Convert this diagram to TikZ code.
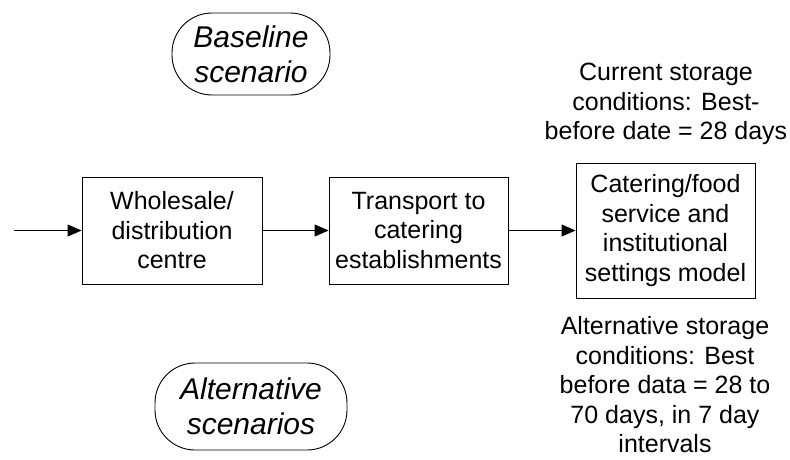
\documentclass[tikz,border=0pt]{standalone}
\usepackage{fontspec}
\setmainfont{Liberation Sans}
\usetikzlibrary{arrows.meta}
\begin{document}
\begin{tikzpicture}[x=1pt,y=-1pt,
 box/.style={draw, line width=0.9pt, align=center, inner sep=0pt, font=\fontsize{25}{29.5}\selectfont},
 term/.style={draw, line width=0.9pt, rounded corners=40pt, align=center, inner sep=0pt, font=\fontsize{30}{35}\selectfont\itshape},
 lbl/.style={align=center, inner sep=0pt, font=\fontsize{25}{29.5}\selectfont},
 arr/.style={-{Triangle[length=14pt,width=12pt]}, line width=0.9pt}]
\useasboundingbox (0,0) rectangle (790,460);
\node[term, minimum width=158pt, minimum height=82pt] (base) at (251,54) {Baseline\\scenario};
\node[term, minimum width=192pt, minimum height=87pt] (alt) at (251,406.5) {Alternative\\scenarios};
\node[box, minimum width=180pt, minimum height=107pt] (w) at (172,230.5) {Wholesale/\\distribution\\centre};
\node[box, minimum width=179pt, minimum height=107pt] (t) at (418.5,230.5) {Transport to\\catering\\establishments};
\node[box, minimum width=179pt, minimum height=135pt] (c) at (665.5,230.5) {Catering/food\\service and\\institutional\\settings model};
\node[lbl] (cur) at (666,104) {Current storage\\conditions: Best-\\before date = 28 days};
\node[lbl] (altc) at (665,385) {Alternative storage\\conditions: Best\\before data = 28 to\\70 days, in 7 day\\intervals};
\coordinate (in) at (14,230.5);
\draw[arr] (in) -- (w.west);
\draw[arr] (w.east) -- (t.west);
\draw[arr] (t.east) -- (c.west);
\end{tikzpicture}
\end{document}
